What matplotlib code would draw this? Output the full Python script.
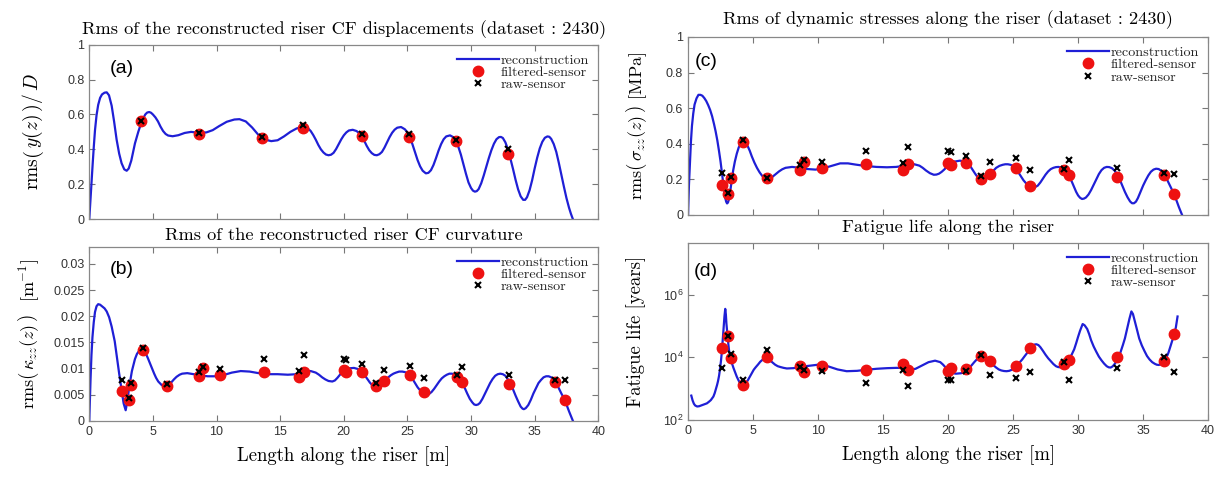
import numpy as np
import matplotlib
matplotlib.use('Agg')
import matplotlib.pyplot as plt

plt.rcParams['mathtext.fontset'] = 'cm'

SERIF = ['cmr10', 'DejaVu Serif']
SANS = ['Liberation Sans', 'DejaVu Sans']

# sensor positions along the riser [m]
sensor_z_a = [4.1, 8.6, 13.6, 16.8, 21.4, 25.1, 28.8, 32.9]
sensor_z = [2.6, 3.1, 3.3, 4.2, 6.1, 8.6, 8.9, 10.3, 13.7, 16.5, 16.9, 20.0,
            20.2, 21.4, 22.5, 23.2, 25.2, 26.3, 28.9, 29.3, 33.0, 36.6, 37.4]

# (a) displacement rms / D
disp_filt = [0.56, 0.49, 0.465, 0.525, 0.475, 0.47, 0.45, 0.375]
disp_raw = [0.565, 0.495, 0.47, 0.54, 0.49, 0.49, 0.455, 0.40]
disp_curve = [(0, 0), (0.05, 0.06), (0.1, 0.12), (0.18, 0.22), (0.27, 0.32), (0.36, 0.42),
              (0.45, 0.51), (0.57, 0.595), (0.7, 0.655), (0.85, 0.695), (1.0, 0.715),
              (1.2, 0.725), (1.37, 0.727), (1.55, 0.71), (1.76, 0.65), (1.95, 0.56),
              (2.15, 0.455), (2.35, 0.375), (2.54, 0.32), (2.75, 0.285), (2.94, 0.277),
              (3.1, 0.29), (3.3, 0.335), (3.59, 0.434), (3.85, 0.50), (4.14, 0.564),
              (4.4, 0.60), (4.55, 0.611), (4.71, 0.614), (4.85, 0.61), (5.0, 0.60),
              (5.2, 0.583), (5.4, 0.56), (5.6, 0.53), (5.8, 0.505), (6.0, 0.488),
              (6.2, 0.479), (6.55, 0.475), (7.0, 0.481), (7.5, 0.494), (8.0, 0.50),
              (8.6, 0.495), (9.2, 0.497), (9.7, 0.51), (10.2, 0.533), (10.8, 0.558),
              (11.4, 0.571), (11.8, 0.573), (12.3, 0.56), (12.8, 0.525), (13.3, 0.482),
              (13.8, 0.456), (14.3, 0.447), (14.8, 0.452), (15.3, 0.474), (15.8, 0.50),
              (16.3, 0.52), (16.8, 0.528), (17.0, 0.527), (17.2, 0.52), (17.4, 0.505),
              (17.6, 0.482), (17.8, 0.455), (18.0, 0.425), (18.2, 0.40), (18.4, 0.382),
              (18.6, 0.37), (18.8, 0.366), (19.0, 0.369), (19.2, 0.38), (19.4, 0.402),
              (19.6, 0.43), (19.8, 0.457), (20.0, 0.48), (20.2, 0.497), (20.4, 0.508),
              (20.7, 0.512), (21.0, 0.505), (21.2, 0.493), (21.4, 0.475), (21.6, 0.45),
              (21.8, 0.42), (22.0, 0.395), (22.2, 0.378), (22.4, 0.368), (22.6, 0.366),
              (22.8, 0.372), (23.0, 0.385), (23.2, 0.41), (23.4, 0.44), (23.6, 0.47),
              (23.8, 0.495), (24.0, 0.513), (24.2, 0.524), (24.5, 0.528), (24.8, 0.515),
              (25.0, 0.497), (25.2, 0.47), (25.4, 0.428), (25.6, 0.382), (25.8, 0.338),
              (26.0, 0.302), (26.2, 0.277), (26.45, 0.262), (26.65, 0.265), (26.85, 0.28),
              (27.05, 0.31), (27.25, 0.35), (27.45, 0.393), (27.65, 0.43), (27.85, 0.458),
              (28.05, 0.474), (28.35, 0.48), (28.6, 0.47), (28.8, 0.45), (29.0, 0.415),
              (29.2, 0.37), (29.4, 0.315), (29.6, 0.26), (29.8, 0.21), (30.0, 0.178),
              (30.15, 0.163), (30.3, 0.157), (30.45, 0.16), (30.6, 0.172), (30.8, 0.205),
              (31.0, 0.25), (31.2, 0.3), (31.4, 0.35), (31.6, 0.395), (31.8, 0.432),
              (32.0, 0.458), (32.2, 0.47), (32.35, 0.471), (32.5, 0.465), (32.7, 0.44),
              (32.9, 0.40), (33.1, 0.345), (33.3, 0.287), (33.5, 0.225), (33.7, 0.17),
              (33.9, 0.13), (34.1, 0.11), (34.25, 0.11), (34.4, 0.125), (34.6, 0.165),
              (34.8, 0.222), (35.0, 0.29), (35.2, 0.352), (35.4, 0.405), (35.6, 0.443),
              (35.8, 0.466), (36.0, 0.474), (36.15, 0.472), (36.3, 0.46), (36.5, 0.43),
              (36.7, 0.385), (36.9, 0.322), (37.1, 0.252), (37.3, 0.185), (37.5, 0.12),
              (37.7, 0.065), (37.85, 0.03), (38.0, 0.0)]

# (b) curvature rms [1/m]
curv_filt = [0.0056, 0.0039, 0.0068, 0.0135, 0.0067, 0.0085, 0.0100, 0.0087, 0.0093,
             0.0084, 0.0094, 0.0097, 0.0093, 0.0094, 0.0067, 0.0076, 0.0088, 0.0055,
             0.0084, 0.0074, 0.0071, 0.0075, 0.0040]
curv_raw = [0.0078, 0.0043, 0.0072, 0.0139, 0.0070, 0.0093, 0.0103, 0.0098, 0.0119,
            0.0096, 0.0125, 0.0118, 0.0116, 0.0108, 0.0073, 0.0097, 0.0105, 0.0082,
            0.0087, 0.0102, 0.0088, 0.0077, 0.0077]
curv_curve = [(0, 0), (0.05, 0.0042), (0.1, 0.008), (0.17, 0.0125), (0.25, 0.016),
              (0.35, 0.0188), (0.45, 0.0208), (0.57, 0.0219), (0.7, 0.0223), (0.85, 0.0222),
              (1.0, 0.0219), (1.2, 0.0215), (1.37, 0.0209), (1.56, 0.0198), (1.76, 0.018),
              (1.9, 0.0164), (2.0, 0.0152), (2.15, 0.0125), (2.35, 0.0090), (2.54, 0.0059),
              (2.7, 0.0033), (2.86, 0.0020), (3.0, 0.0038), (3.14, 0.0065), (3.35, 0.0095),
              (3.59, 0.0118), (3.75, 0.0128), (3.9, 0.0133), (4.05, 0.0136), (4.17, 0.0137),
              (4.3, 0.0135), (4.45, 0.0128), (4.6, 0.012), (4.77, 0.0110), (4.95, 0.0099),
              (5.1, 0.0090), (5.25, 0.0082), (5.42, 0.0075), (5.7, 0.0068), (6.0, 0.0066),
              (6.2, 0.0068), (6.4, 0.0072), (6.65, 0.0079), (6.86, 0.0084), (7.1, 0.0088),
              (7.3, 0.0090), (7.7, 0.0091), (8.2, 0.0089), (8.7, 0.0087), (9.3, 0.0085),
              (9.9, 0.0085), (10.5, 0.0087), (11.2, 0.0092), (11.9, 0.0095), (12.6, 0.0094),
              (13.3, 0.0091), (14.0, 0.0089), (14.8, 0.0089), (15.6, 0.0088), (16.3, 0.0089),
              (16.9, 0.0094), (17.4, 0.0095), (17.8, 0.0092), (18.05, 0.0088), (18.3, 0.0083),
              (18.55, 0.0079), (18.8, 0.0076), (19.1, 0.0075), (19.3, 0.0077), (19.5, 0.0082),
              (19.7, 0.0088), (19.9, 0.0094), (20.1, 0.0098), (20.3, 0.0100), (20.8, 0.0101),
              (21.1, 0.0099), (21.3, 0.0096), (21.5, 0.0092), (21.7, 0.0085), (21.9, 0.0078),
              (22.05, 0.0073), (22.2, 0.0069), (22.35, 0.0066), (22.5, 0.0065), (22.7, 0.0066),
              (22.9, 0.0068), (23.1, 0.0072), (23.3, 0.0078), (23.5, 0.0083), (23.7, 0.0087),
              (23.9, 0.009), (24.1, 0.0092), (24.35, 0.0094), (24.6, 0.0094), (24.8, 0.0093),
              (25.0, 0.0091), (25.2, 0.0087), (25.4, 0.0080), (25.6, 0.0072), (25.8, 0.0064),
              (26.0, 0.0058), (26.2, 0.0053), (26.35, 0.0051), (26.5, 0.0050), (26.7, 0.0051),
              (26.9, 0.0055), (27.1, 0.0061), (27.3, 0.0068), (27.5, 0.0075), (27.7, 0.0081),
              (27.9, 0.0085), (28.1, 0.0088), (28.3, 0.009), (28.5, 0.0090), (28.7, 0.0088),
              (28.9, 0.0085), (29.1, 0.008), (29.3, 0.0073), (29.5, 0.0063), (29.7, 0.0052),
              (29.9, 0.0042), (30.1, 0.0035), (30.25, 0.0031), (30.4, 0.0030), (30.55, 0.0031),
              (30.7, 0.0034), (30.9, 0.0042), (31.1, 0.0052), (31.3, 0.0062), (31.5, 0.0072),
              (31.7, 0.008), (31.9, 0.0086), (32.1, 0.0089), (32.3, 0.0090), (32.5, 0.0089),
              (32.7, 0.0086), (32.9, 0.0079), (33.1, 0.0071), (33.3, 0.006), (33.5, 0.0048),
              (33.7, 0.0037), (33.9, 0.0027), (34.05, 0.0023), (34.15, 0.0022), (34.3, 0.0024),
              (34.5, 0.0030), (34.7, 0.004), (34.9, 0.0052), (35.1, 0.0062), (35.3, 0.0072),
              (35.5, 0.0078), (35.7, 0.0083), (35.9, 0.0085), (36.1, 0.0085), (36.3, 0.0083),
              (36.5, 0.0078), (36.7, 0.0071), (36.9, 0.0062), (37.1, 0.0052), (37.3, 0.0043),
              (37.5, 0.0031), (37.7, 0.0018), (37.85, 0.0009), (38.0, 0.0)]

# (c) dynamic stress rms [MPa]
stress_filt = [0.17, 0.12, 0.21, 0.41, 0.205, 0.255, 0.30, 0.265, 0.285, 0.255, 0.285,
               0.29, 0.28, 0.29, 0.20, 0.23, 0.265, 0.165, 0.25, 0.225, 0.215, 0.225, 0.12]
stress_raw = [0.235, 0.125, 0.215, 0.42, 0.21, 0.28, 0.31, 0.30, 0.36, 0.29, 0.38, 0.36,
              0.355, 0.33, 0.22, 0.295, 0.32, 0.25, 0.26, 0.31, 0.265, 0.235, 0.23]
stress_curve = [(0, 0), (0.07, 0.17), (0.15, 0.3), (0.22, 0.41), (0.3, 0.5), (0.4, 0.57),
                (0.5, 0.62), (0.65, 0.655), (0.8, 0.675), (0.95, 0.675), (1.1, 0.67),
                (1.25, 0.657), (1.4, 0.64), (1.55, 0.617), (1.7, 0.59), (1.85, 0.555),
                (2.0, 0.51), (2.12, 0.47), (2.25, 0.42), (2.38, 0.36), (2.5, 0.30),
                (2.6, 0.24), (2.7, 0.18), (2.78, 0.135), (2.85, 0.10), (2.93, 0.075),
                (3.0, 0.065), (3.07, 0.07), (3.15, 0.09), (3.25, 0.135), (3.35, 0.19),
                (3.47, 0.25), (3.6, 0.30), (3.75, 0.345), (3.9, 0.38), (4.07, 0.402),
                (4.25, 0.41), (4.42, 0.403), (4.6, 0.385), (4.75, 0.36), (4.9, 0.33),
                (5.1, 0.295), (5.3, 0.265), (5.5, 0.24), (5.7, 0.22), (5.9, 0.209),
                (6.1, 0.205), (6.3, 0.208), (6.5, 0.215), (6.75, 0.23), (7.0, 0.245),
                (7.25, 0.257), (7.5, 0.265), (8.0, 0.27), (8.6, 0.265), (9.2, 0.258),
                (9.8, 0.255), (10.3, 0.26), (11.0, 0.275), (11.7, 0.29), (12.3, 0.29),
                (12.9, 0.283), (13.7, 0.275), (14.5, 0.27), (15.3, 0.268), (16.0, 0.27),
                (16.5, 0.275), (17.0, 0.283), (17.4, 0.285), (17.8, 0.277), (18.05, 0.265),
                (18.3, 0.25), (18.6, 0.235), (18.9, 0.226), (19.1, 0.227), (19.3, 0.232),
                (19.5, 0.242), (19.7, 0.255), (19.9, 0.27), (20.1, 0.285), (20.3, 0.295),
                (20.5, 0.30), (20.9, 0.305), (21.1, 0.303), (21.3, 0.30), (21.5, 0.29),
                (21.7, 0.275), (21.9, 0.252), (22.1, 0.23), (22.3, 0.21), (22.5, 0.20),
                (22.7, 0.2), (22.9, 0.205), (23.1, 0.218), (23.3, 0.235), (23.5, 0.25),
                (23.7, 0.265), (23.95, 0.276), (24.2, 0.282), (24.4, 0.285), (24.6, 0.285),
                (24.8, 0.282), (25.0, 0.275), (25.2, 0.26), (25.4, 0.24), (25.6, 0.217),
                (25.8, 0.195), (26.0, 0.178), (26.2, 0.165), (26.35, 0.158), (26.5, 0.155),
                (26.7, 0.157), (26.9, 0.165), (27.1, 0.183), (27.3, 0.205), (27.5, 0.227),
                (27.7, 0.245), (27.9, 0.258), (28.1, 0.265), (28.3, 0.269), (28.5, 0.27),
                (28.7, 0.265), (28.9, 0.255), (29.1, 0.24), (29.3, 0.22), (29.5, 0.19),
                (29.7, 0.155), (29.85, 0.13), (30.0, 0.11), (30.15, 0.097), (30.3, 0.09),
                (30.45, 0.092), (30.6, 0.098), (30.8, 0.115), (31.0, 0.14), (31.2, 0.17),
                (31.4, 0.2), (31.6, 0.23), (31.8, 0.252), (32.0, 0.265), (32.2, 0.27),
                (32.4, 0.269), (32.6, 0.263), (32.8, 0.25), (33.0, 0.228), (33.2, 0.2),
                (33.4, 0.165), (33.6, 0.13), (33.8, 0.1), (34.0, 0.076), (34.15, 0.066),
                (34.3, 0.066), (34.45, 0.075), (34.6, 0.095), (34.8, 0.13), (35.0, 0.165),
                (35.2, 0.195), (35.4, 0.222), (35.6, 0.243), (35.8, 0.255), (36.0, 0.26),
                (36.2, 0.258), (36.4, 0.248), (36.6, 0.23), (36.8, 0.205), (37.0, 0.175),
                (37.2, 0.145), (37.4, 0.115), (37.6, 0.075), (37.75, 0.045), (37.9, 0.018),
                (38.0, 0.0)]

# (d) fatigue life [years]
life_filt = [2.0e4, 4.9e4, 9.4e3, 1.3e3, 1.0e4, 5.4e3, 3.3e3, 5.2e3, 4.0e3, 6.0e3, 4.0e3,
             3.7e3, 4.5e3, 4.3e3, 1.1e4, 7.8e3, 5.2e3, 2.0e4, 6.1e3, 8.5e3, 1.0e4, 7.8e3, 5.5e4]
life_raw = [4.5e3, 4.9e4, 1.25e4, 1.9e3, 1.7e4, 5.0e3, 4.0e3, 3.6e3, 1.5e3, 4.0e3, 1.2e3,
            1.9e3, 1.9e3, 3.6e3, 1.2e4, 2.7e3, 2.2e3, 3.5e3, 6.9e3, 1.9e3, 4.6e3, 1.0e4, 3.5e3]
life_curve = [(0.25, 600), (0.35, 420), (0.45, 330), (0.55, 290), (0.7, 270), (0.85, 275),
              (1.0, 290), (1.25, 315), (1.45, 340), (1.6, 380), (1.75, 430), (1.85, 490),
              (1.95, 560), (2.05, 720), (2.15, 1000), (2.23, 1300), (2.3, 1700), (2.38, 2500),
              (2.45, 4000), (2.53, 7500), (2.6, 1.5e4), (2.67, 3.5e4), (2.73, 8e4),
              (2.8, 2.0e5), (2.86, 3.5e5), (2.91, 2.3e5), (2.95, 1.2e5), (3.0, 7e4),
              (3.05, 4e4), (3.1, 2.6e4), (3.15, 1.7e4), (3.22, 1.15e4), (3.3, 8000),
              (3.4, 6000), (3.5, 4500), (3.62, 3300), (3.75, 2400), (3.88, 1850), (4.0, 1500),
              (4.1, 1350), (4.2, 1300), (4.32, 1350), (4.45, 1500), (4.6, 1850), (4.75, 2400),
              (4.9, 3100), (5.05, 4000), (5.2, 4800), (5.4, 6000), (5.55, 7200), (5.75, 8500),
              (5.88, 9200), (6.0, 9500), (6.15, 9000), (6.3, 8000), (6.5, 6800), (6.7, 5800),
              (6.9, 5200), (7.1, 4900), (7.35, 4600), (7.6, 4400), (8.1, 4500), (8.7, 5000),
              (9.4, 5400), (10.0, 5800), (10.5, 5600), (11.0, 4800), (11.5, 4100),
              (12.2, 3600), (13.0, 3700), (13.7, 4000), (14.5, 4300), (15.3, 4500),
              (16.0, 4600), (16.6, 4600), (17.1, 4000), (17.5, 4300), (18.0, 5500),
              (18.5, 7000), (19.0, 7800), (19.4, 7000), (19.6, 5900), (19.8, 4800),
              (20.0, 4000), (20.2, 3400), (20.4, 3100), (20.6, 3000), (21.0, 3100),
              (21.2, 3350), (21.4, 3800), (21.6, 4500), (21.8, 5500), (22.0, 6900),
              (22.2, 8500), (22.35, 9700), (22.5, 1.05e4), (22.7, 1.0e4), (22.9, 9000),
              (23.1, 7800), (23.3, 6500), (23.5, 5500), (23.7, 4700), (23.9, 4100),
              (24.1, 3800), (24.3, 3650), (24.5, 3600), (24.7, 3700), (24.9, 4000),
              (25.1, 4600), (25.3, 5500), (25.5, 6800), (25.7, 8500), (25.9, 1.1e4),
              (26.1, 1.4e4), (26.3, 1.8e4), (26.5, 2.3e4), (26.65, 2.55e4), (26.8, 2.6e4),
              (26.95, 2.45e4), (27.1, 2.1e4), (27.3, 1.6e4), (27.5, 1.2e4), (27.7, 9300),
              (27.9, 7500), (28.1, 6100), (28.3, 5200), (28.45, 4900), (28.6, 4800),
              (28.75, 5000), (28.9, 5500), (29.1, 6600), (29.3, 8500), (29.5, 1.2e4),
              (29.7, 1.8e4), (29.85, 2.8e4), (30.0, 4.5e4), (30.15, 7e4), (30.35, 1.15e5),
              (30.5, 1.05e5), (30.7, 8e4), (30.85, 5.5e4), (31.0, 3.5e4), (31.2, 2.2e4),
              (31.4, 1.5e4), (31.6, 1.05e4), (31.8, 8000), (32.0, 6300), (32.2, 5200),
              (32.35, 4800), (32.5, 4700), (32.65, 5100), (32.8, 6000), (32.95, 7600),
              (33.1, 1e4), (33.25, 1.4e4), (33.45, 2.5e4), (33.6, 4e4), (33.8, 9e4),
              (33.95, 1.7e5), (34.1, 2.9e5), (34.22, 2.4e5), (34.35, 1.5e5), (34.5, 8.5e4),
              (34.7, 4e4), (34.9, 2.4e4), (35.1, 1.6e4), (35.3, 1.1e4), (35.5, 8500),
              (35.7, 7000), (35.9, 6200), (36.05, 5800), (36.2, 5700), (36.35, 5900),
              (36.5, 6500), (36.65, 7800), (36.8, 1e4), (36.95, 1.4e4), (37.1, 2.2e4),
              (37.25, 3.4e4), (37.4, 5.5e4), (37.52, 9e4), (37.65, 2e5)]

BLUE = '#1f1fd6'
RED = '#ee1111'


def style_axes(ax):
    ax.tick_params(direction='in', top=True, right=True, length=4, width=0.8,
                   color='#777777', labelsize=9, labelcolor='#333333')
    for lab in ax.get_xticklabels() + ax.get_yticklabels():
        lab.set_family(SANS)
    for sp in ax.spines.values():
        sp.set_color('#888888')
        sp.set_linewidth(0.9)


def draw_panel(ax, curve, zs, filt, raw, letter, lx, ly):
    cx, cy = np.array(curve).T
    ax.plot(cx, cy, color=BLUE, lw=1.6, label='reconstruction', zorder=2)
    ax.plot(zs, filt, 'o', color=RED, ms=7.5, mec=RED, label='filtered-sensor', zorder=3)
    ax.plot(zs, raw, 'x', color='black', ms=4, mew=1.5, label='raw-sensor', zorder=4)
    ax.set_xlim(0, 40)
    ax.set_xticks(np.arange(0, 41, 5))
    ax.text(lx, ly, letter, transform=ax.transAxes, fontsize=14, family=SANS,
            ha='center', va='center')
    leg = ax.legend(loc='upper right', frameon=False, prop={'family': SERIF, 'size': 10.2},
                    handlelength=3.0, handletextpad=0.1, labelspacing=-0.05,
                    borderaxespad=0.45, borderpad=0.2)
    for t in leg.get_texts():
        t.set_color('#222222')


fig = plt.figure(figsize=(12.28, 4.84), dpi=100)
ax_a = fig.add_axes([0.0727, 0.5475, 0.4145, 0.360])
ax_b = fig.add_axes([0.0727, 0.1308, 0.4145, 0.3595])
ax_c = fig.add_axes([0.5603, 0.5558, 0.4235, 0.3678])
ax_d = fig.add_axes([0.5603, 0.1322, 0.4235, 0.3663])

# (a)
draw_panel(ax_a, disp_curve, sensor_z_a, disp_filt, disp_raw, '(a)', 0.063, 0.865)
ax_a.set_ylim(0, 1)
ax_a.set_yticks([0, 0.2, 0.4, 0.6, 0.8, 1])
ax_a.set_yticklabels(['0', '0.2', '0.4', '0.6', '0.8', '1'])
ax_a.set_xticklabels([])
ax_a.set_ylabel(r'rms$\left(\,y(z)\,\right)/\,D$', fontsize=14, family=SERIF, labelpad=15)
ax_a.set_title('Rms of the reconstructed riser CF displacements (dataset : 2430)',
               fontsize=13.2, family=SERIF, pad=8)

# (b)
draw_panel(ax_b, curv_curve, sensor_z, curv_filt, curv_raw, '(b)', 0.063, 0.87)
ax_b.set_ylim(0, 0.0333)
ax_b.set_yticks([0, 0.005, 0.01, 0.015, 0.02, 0.025, 0.03])
ax_b.set_yticklabels(['0', '0.005', '0.01', '0.015', '0.02', '0.025', '0.03'])
ax_b.set_ylabel(r'rms$\left(\,\kappa_{zz}(z)\,\right)$  [m$^{-1}$]', fontsize=13,
                family=SERIF, labelpad=9)
ax_b.set_title('Rms of the reconstructed riser CF curvature', fontsize=13.2, family=SERIF,
               pad=5)
ax_b.set_xlabel('Length along the riser [m]', fontsize=13.5, family=SERIF, labelpad=6)

# (c)
draw_panel(ax_c, stress_curve, sensor_z, stress_filt, stress_raw, '(c)', 0.035, 0.86)
ax_c.set_ylim(0, 1)
ax_c.set_yticks([0, 0.2, 0.4, 0.6, 0.8, 1])
ax_c.set_yticklabels(['0', '0.2', '0.4', '0.6', '0.8', '1'])
ax_c.set_xticklabels([])
ax_c.set_ylabel(r'rms$\left(\,\sigma_{zz}(z)\,\right)$ [MPa]', fontsize=13, family=SERIF,
                labelpad=12)
ax_c.set_title('Rms of dynamic stresses along the riser (dataset : 2430)',
               fontsize=13.2, family=SERIF, pad=9)

# (d)
draw_panel(ax_d, life_curve, sensor_z, life_filt, life_raw, '(d)', 0.035, 0.836)
ax_d.set_yscale('log')
ax_d.set_ylim(100, 4.5e7)
ax_d.set_yticks([1e2, 1e4, 1e6])
ax_d.minorticks_off()
ax_d.set_yticklabels([r'$\mathregular{10^{2}}$', r'$\mathregular{10^{4}}$',
                      r'$\mathregular{10^{6}}$'])
ax_d.set_ylabel('Fatigue life [years]', fontsize=13.5, family=SERIF, labelpad=12)
ax_d.set_title('Fatigue life along the riser', fontsize=13.2, family=SERIF, pad=8)
ax_d.set_xlabel('Length along the riser [m]', fontsize=13.5, family=SERIF, labelpad=6)

for ax in (ax_a, ax_b, ax_c, ax_d):
    style_axes(ax)

fig.savefig('out.png', dpi=100)
